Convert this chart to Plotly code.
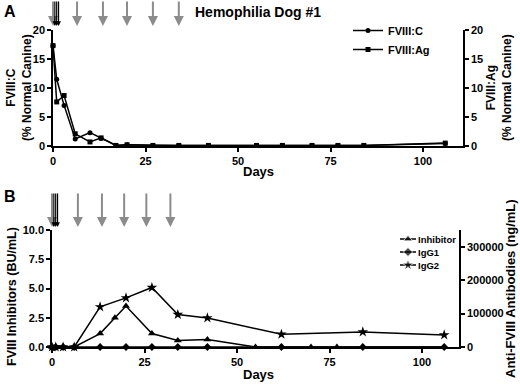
import plotly.graph_objects as go

W, H = 520, 384

# ---------------- Panel A data ----------------
days_a = [0, 1, 3, 6, 10, 13, 17, 20, 27, 34, 42, 55, 62, 70, 77, 84, 106]
fviii_c = [17.3, 11.5, 7.0, 1.2, 2.3, 1.3, 0.1, 0.2, 0.1, 0.1, 0.1, 0.1, 0.1, 0.1, 0.1, 0.1, 0.45]
fviii_ag = [17.3, 7.6, 8.7, 2.1, 0.7, 1.4, 0.1, 0.2, 0.1, 0.1, 0.1, 0.1, 0.1, 0.1, 0.1, 0.1, 0.5]

# ---------------- Panel B data ----------------
days_inh = [0, 1, 3, 6, 13, 17, 20, 27, 34, 42, 55, 62, 70, 77, 84, 106]
inhibitor = [0, 0, 0, 0, 1.15, 2.5, 3.5, 1.15, 0.55, 0.65, 0, 0, 0, 0, 0, 0]
days_ig = [0, 1, 3, 6, 13, 20, 27, 34, 42, 62, 84, 106]
igg1 = [0, 0, 0, 0, 0, 0, 0, 0, 0, 0, 0, 0]
igg2 = [0, 0, 0, 0, 120000, 147000, 178000, 97000, 87000, 38000, 45000, 36000]

# dosing arrows (days)
gray_arrows_a = [0, 6.5, 13.5, 20, 27, 34]
black_arrows_a = [0.5, 1.0, 1.5]
gray_arrows_b = [0, 7, 13.5, 19.5, 25.5, 32]
black_arrows_b = [0.5, 1.0, 1.5]

xticks = [0, 25, 50, 75, 100]
yticks_a = [0, 5, 10, 15, 20]
yticks_b = [0, 2.5, 5, 7.5, 10]
yticks_b2 = [0, 100000, 200000, 300000]

# panel B legend entries (name, symbol, size)
legend_b_names = ["Inhibitor", "IgG1", "IgG2"]
legend_b_symbols = ["triangle-up", "diamond", "star"]
legend_b_sizes = [8, 7, 9]

FONT = "Liberation Sans"


def px_x(p):
    return p / W


def px_y(p):
    return 1 - p / H


fig = go.Figure()
line = dict(color="black", width=1.5)

fig.add_trace(go.Scatter(x=days_a, y=fviii_c, name="FVIII:C", mode="lines+markers",
                         line=line, marker=dict(symbol="circle", size=5, color="black"),
                         xaxis="x", yaxis="y", cliponaxis=False, legend="legend"))
fig.add_trace(go.Scatter(x=days_a, y=fviii_ag, name="FVIII:Ag", mode="lines+markers",
                         line=line, marker=dict(symbol="square", size=5, color="black"),
                         xaxis="x", yaxis="y2", cliponaxis=False, legend="legend"))

fig.add_trace(go.Scatter(x=days_inh, y=inhibitor, name="Inhibitor", mode="lines+markers",
                         line=line, marker=dict(symbol="triangle-up", size=7, color="black"),
                         xaxis="x2", yaxis="y3", cliponaxis=False, showlegend=False))
fig.add_trace(go.Scatter(x=days_ig, y=igg1, name="IgG1", mode="lines+markers",
                         line=line, marker=dict(symbol="diamond", size=6, color="black"),
                         xaxis="x2", yaxis="y4", cliponaxis=False, showlegend=False))
fig.add_trace(go.Scatter(x=days_ig, y=igg2, name="IgG2", mode="lines+markers",
                         line=line, marker=dict(symbol="star", size=8, color="black"),
                         xaxis="x2", yaxis="y4", cliponaxis=False, showlegend=False))

# compact legend keys for panel B, drawn on a hidden pixel-coordinate overlay
leg_rows = [239, 252, 265]
for name, sym, sz, ry in zip(legend_b_names, legend_b_symbols, legend_b_sizes, leg_rows):
    fig.add_trace(go.Scatter(x=[400, 408, 416], y=[ry, ry, ry], mode="lines+markers",
                             line=dict(color="black", width=1.5),
                             marker=dict(symbol=sym, size=[0, sz, 0], color="black"),
                             xaxis="x3", yaxis="y5", showlegend=False, hoverinfo="skip",
                             cliponaxis=False))

axis_common = dict(showline=True, linecolor="black", linewidth=1.5, ticks="outside",
                   ticklen=4, tickwidth=1.5, tickcolor="black", showgrid=False, zeroline=False,
                   automargin=False,
                   tickfont=dict(family=FONT, size=11, color="black", weight="bold"))

fig.update_layout(
    width=W, height=H, margin=dict(l=0, r=0, t=0, b=0, autoexpand=False),
    paper_bgcolor="white", plot_bgcolor="rgba(0,0,0,0)",
    font=dict(family=FONT, color="black", weight="bold"),
    xaxis=dict(domain=[px_x(53), px_x(463)], range=[0, 110.8], tickvals=xticks,
               anchor="y", **axis_common),
    yaxis=dict(domain=[px_y(146), px_y(30)], range=[0, 20], tickvals=yticks_a,
               anchor="x", **axis_common),
    yaxis2=dict(range=[0, 20], tickvals=yticks_a, overlaying="y", side="right",
                anchor="x", **axis_common),
    xaxis2=dict(domain=[px_x(52), px_x(459)], range=[0, 110], tickvals=xticks,
                anchor="y3", **axis_common),
    yaxis3=dict(domain=[px_y(347), px_y(230)], range=[0, 10], tickvals=yticks_b,
                tickformat=".1f", anchor="x2", **axis_common),
    yaxis4=dict(range=[0, 350000], tickvals=yticks_b2, tickformat="d",
                overlaying="y3", side="right", anchor="x2", **axis_common),
    xaxis3=dict(domain=[0, 1], range=[0, W], visible=False, anchor="y5", fixedrange=True),
    yaxis5=dict(domain=[0, 1], range=[H, 0], visible=False, anchor="x3", fixedrange=True),
    legend=dict(x=px_x(348), y=px_y(16), xanchor="left", yanchor="top",
                bgcolor="rgba(0,0,0,0)", itemwidth=30, traceorder="normal",
                font=dict(family=FONT, size=11, color="black", weight="bold")),
    showlegend=True,
)

ann = []
# arrows
for d in gray_arrows_a:
    ann.append(dict(x=d, y=px_y(26), xref="x", yref="paper", ax=0, ay=-26, text="",
                    showarrow=True, arrowhead=2, arrowsize=1, arrowwidth=2, arrowcolor="#8c8c8c"))
for d in black_arrows_a:
    ann.append(dict(x=d, y=px_y(26), xref="x", yref="paper", ax=0, ay=-26, text="",
                    showarrow=True, arrowhead=2, arrowsize=0.8, arrowwidth=1.2, arrowcolor="black"))
for d in gray_arrows_b:
    ann.append(dict(x=d, y=px_y(227), xref="x2", yref="paper", ax=0, ay=-35, text="",
                    showarrow=True, arrowhead=2, arrowsize=1, arrowwidth=2, arrowcolor="#8c8c8c"))
for d in black_arrows_b:
    ann.append(dict(x=d, y=px_y(227), xref="x2", yref="paper", ax=0, ay=-35, text="",
                    showarrow=True, arrowhead=2, arrowsize=0.8, arrowwidth=1.2, arrowcolor="black"))


def txt(x, y, s, size, angle=0, xanchor="center"):
    return dict(x=px_x(x), y=px_y(y), xref="paper", yref="paper", text=s, showarrow=False,
                textangle=angle, xanchor=xanchor, yanchor="middle",
                font=dict(family=FONT, size=size, color="black", weight="bold"))


ann += [
    txt(10, 11, "A", 16),
    txt(10, 196, "B", 16),
    txt(258, 12, "Hemophilia Dog #1", 14),
    txt(258, 171, "Days", 13),
    txt(258, 374, "Days", 13),
    txt(19, 88, "FVIII:C<br>(% Normal Canine)", 12, -90),
    txt(499, 88, "FVIII:Ag<br>(% Normal Canine)", 12, -90),
    txt(12, 297, "FVIII Inhibitors (BU/mL)", 12.5, -90),
    txt(510, 289, "Anti-FVIII Antibodies (ng/mL)", 13, -90),
]
for name, ry in zip(legend_b_names, leg_rows):
    ann.append(txt(416, ry, name, 9.5, xanchor="left"))
fig.update_layout(annotations=ann)

fig.write_html("out.html", config={"displayModeBar": False},
               post_script="document.body.style.margin='0';document.body.style.overflow='hidden';")
